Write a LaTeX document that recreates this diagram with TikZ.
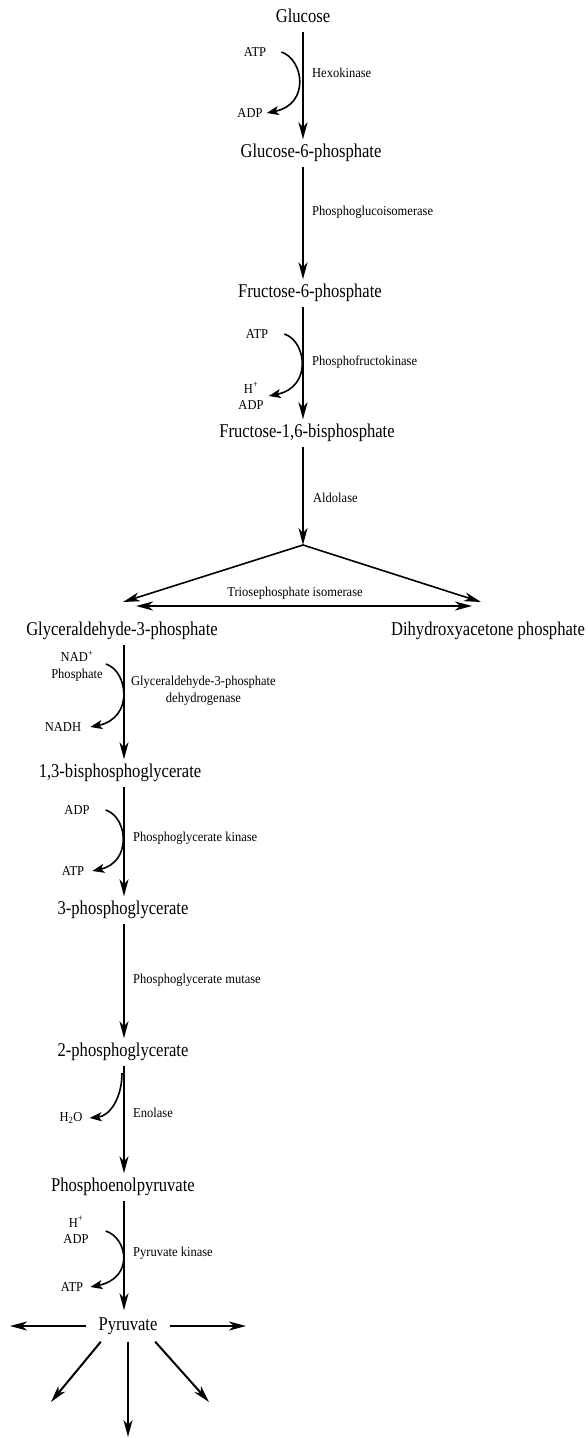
\documentclass[tikz,border=0pt]{standalone}
\usepackage{fontspec}
\newfontfamily\metfont{Liberation Serif}[FakeStretch=0.85]
\newfontfamily\enzfont{Liberation Serif}[FakeStretch=0.92]
\usetikzlibrary{arrows.meta}
\begin{document}
\begin{tikzpicture}[x=1pt,y=-1pt,
  >={Stealth[length=17pt,width=9pt,inset=5pt]},
  met/.style={font=\metfont\fontsize{19.5}{22}\selectfont,inner sep=5pt,text height=13pt,text depth=4pt},
  enz/.style={font=\enzfont\fontsize{13.6}{17}\selectfont,inner sep=1pt,anchor=west},
  cof/.style={font=\enzfont\fontsize{13.6}{16.5}\selectfont,inner sep=1pt,align=center},
  main/.style={->,line width=2pt},
  side/.style={-{Stealth[length=12pt,width=9pt,inset=3pt]},line width=1.6pt},
  tri/.style={->,line width=1.6pt},
  iso/.style={<->,line width=2.4pt}]
\useasboundingbox (0,0) rectangle (587,1438);
\coordinate(axis) at (124,0);
%
\node[met](glc) at (303,18) {Glucose};
\node[met](g6p) at (311,153) {Glucose-6-phosphate};
\draw[main](glc) -- (glc |- g6p.north) {};
\node[enz](hk) at (311,73) {Hexokinase};
\node[cof](atpA) at (255,52) {ATP};
\node[cof](adpA) at (250,113) {ADP};
\draw[side]([xshift=14pt]atpA.east) .. controls +(22,7) and +(44,-9) .. ([xshift=3pt]adpA.east) {};
%
\node[met](f6p) at (310,293) {Fructose-6-phosphate};
\draw[main](g6p.south -| glc) -- (f6p.north -| glc) {};
\node[enz](pgi) at (311,212) {Phosphoglucoisomerase};
%
\node[met](f16bp) at (307,433) {Fructose-1,6-bisphosphate};
\draw[main](f6p.south -| glc) -- (f16bp.north -| glc) {};
\node[enz](pfk) at (311,362) {Phosphofructokinase};
\node[cof](atpB) at (257,334) {ATP};
\node[cof](hadpB) at (251,396) {H\textsuperscript{+}\\ADP};
\draw[side]([xshift=15pt]atpB.east) .. controls +(22,7) and +(44,-9) .. ([xshift=4pt]hadpB.east) {};
%
\coordinate(split) at (303,545);
\draw[main](f16bp.south -| glc) -- (split) {};
\node[enz](ald) at (312,498) {Aldolase};
%
\node[met](g3p) at (122,631) {Glyceraldehyde-3-phosphate};
\node[met](dhap) at (488,631) {Dihydroxyacetone phosphate};
\coordinate(toG3P) at (123,602);
\coordinate(toDHAP) at (481,602);
\draw[tri](split) -- (toG3P) {};
\draw[tri](split) -- (toDHAP) {};
\coordinate(isoL) at (136,606);
\coordinate(isoR) at (472,606);
\draw[iso](isoL) -- (isoR) {};
\node[enz,anchor=center](tim) at (295,593) {Triosephosphate isomerase};
%
\node[met](bpg) at (120,773) {1,3-bisphosphoglycerate};
\draw[main](g3p.south -| axis) -- (bpg.north -| axis) {};
\node[enz,align=center](gapdh) at (130,691) {Glyceraldehyde-3-phosphate\\dehydrogenase};
\node[cof](nadC) at (77,666) {NAD\textsuperscript{+}\\Phosphate};
\node[cof](nadhC) at (63,727) {NADH};
\draw[side]([xshift=2pt,yshift=2pt]nadC.east) .. controls +(22,7) and +(44,-9) .. ([xshift=8pt]nadhC.east) {};
%
\node[met](pg3) at (123,910) {3-phosphoglycerate};
\draw[main](bpg.south -| axis) -- (pg3.north -| axis) {};
\node[enz](pgk) at (132,838) {Phosphoglycerate kinase};
\node[cof](adpD) at (77,810) {ADP};
\node[cof](atpD) at (73,871) {ATP};
\draw[side]([xshift=15pt]adpD.east) .. controls +(22,7) and +(40,-9) .. ([xshift=7pt]atpD.east) {};
%
\node[met](pg2) at (123,1052) {2-phosphoglycerate};
\draw[main](pg3.south -| axis) -- (pg2.north -| axis) {};
\node[enz](pgm) at (132,980) {Phosphoglycerate mutase};
%
\node[met](pep) at (123,1187) {Phosphoenolpyruvate};
\draw[main](pg2.south -| axis) -- (pep.north -| axis) {};
\node[enz](eno) at (132,1113) {Enolase};
\coordinate(enoS) at (122,1073);
\node[cof](h2oE) at (71,1118) {H\textsubscript{2}O};
\draw[side](enoS) .. controls +(0,25) and +(20,-2) .. ([xshift=6pt]h2oE.east) {};
%
\node[met,inner xsep=12pt,inner ysep=7pt](pyr) at (128,1326) {Pyruvate};
\draw[main](pep.south -| axis) -- (pyr.north -| axis) {};
\node[enz](pk) at (132,1253) {Pyruvate kinase};
\node[cof](hadpF) at (76,1230) {H\textsuperscript{+}\\ADP};
\node[cof](atpF) at (72,1287) {ATP};
\draw[side]([xshift=16pt,yshift=-1pt]hadpF.east) .. controls +(22,7) and +(44,-9) .. ([xshift=6pt]atpF.east) {};
%
\coordinate(pyrW) at (10,1326);
\coordinate(pyrE) at (246,1326);
\coordinate(pyrS) at (128,1437);
\coordinate(pyrSW) at (51,1402);
\coordinate(pyrSE) at (209,1402);
\draw[main](pyr) -- (pyrW) {};
\draw[main](pyr) -- (pyrE) {};
\draw[main](pyr) -- (pyrS) {};
\draw[main](pyr.-150) -- (pyrSW) {};
\draw[main](pyr.-30) -- (pyrSE) {};
\end{tikzpicture}
\end{document}
